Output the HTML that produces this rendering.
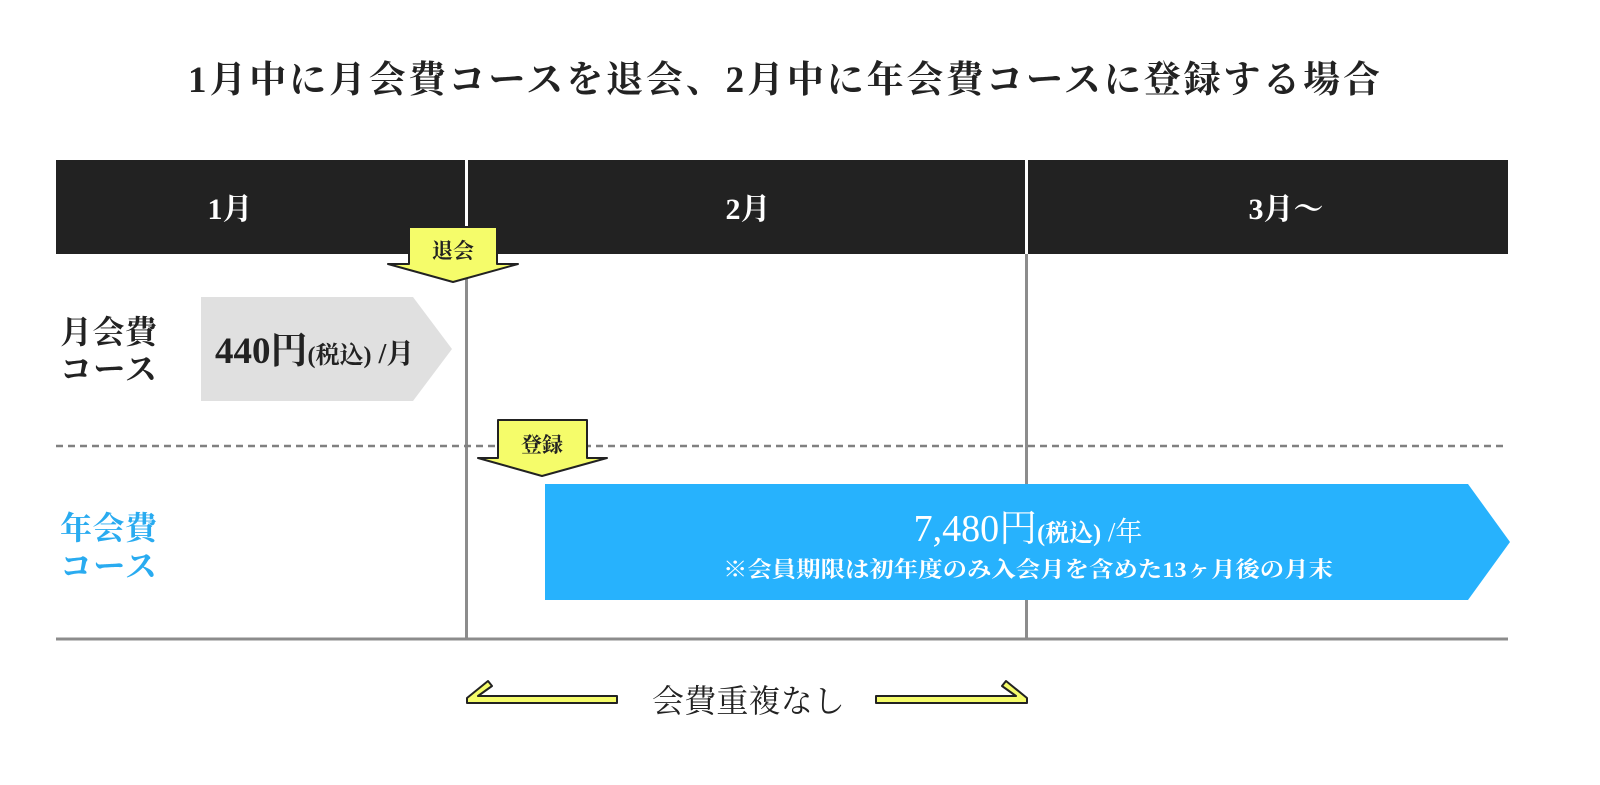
<!DOCTYPE html>
<html><head><meta charset="utf-8">
<style>
html,body{margin:0;padding:0;background:#fff;}
svg{display:block;}
text{font-family:"Liberation Serif","Noto Serif CJK SC","Noto Serif CJK JP",serif;font-weight:bold;}
</style></head>
<body>
<svg width="1600" height="785" viewBox="0 0 1600 785" xmlns="http://www.w3.org/2000/svg">
<rect width="1600" height="785" fill="#fff"/>
<text x="188" y="92" font-size="37" fill="#222" textLength="1192" lengthAdjust="spacing">1月中に月会費コースを退会、2月中に年会費コースに登録する場合</text>

<rect x="56" y="160" width="1452" height="94" fill="#222"/>
<rect x="465" y="160" width="3" height="94" fill="#fff"/>
<rect x="1025" y="160" width="3" height="94" fill="#fff"/>
<text x="230" y="219" font-size="30" fill="#fff" text-anchor="middle">1月</text>
<text x="748" y="219" font-size="30" fill="#fff" text-anchor="middle">2月</text>
<text x="1286" y="219" font-size="30" fill="#fff" text-anchor="middle">3月〜</text>

<line x1="466.5" y1="254" x2="466.5" y2="638" stroke="#8c8c8c" stroke-width="3"/>
<line x1="1026.5" y1="254" x2="1026.5" y2="638" stroke="#8c8c8c" stroke-width="3"/>
<line x1="56" y1="639" x2="1508" y2="639" stroke="#8c8c8c" stroke-width="3"/>
<line x1="56" y1="446" x2="1508" y2="446" stroke="#808080" stroke-width="2.5" stroke-dasharray="7,5"/>

<text x="60" y="343" font-size="32" fill="#222" textLength="97" lengthAdjust="spacing">月会費</text>
<text x="60" y="380" font-size="32" fill="#222" textLength="97" lengthAdjust="spacing">コース</text>
<text x="60" y="539" font-size="32" fill="#29abf0" textLength="97" lengthAdjust="spacing">年会費</text>
<text x="60" y="577" font-size="32" fill="#29abf0" textLength="97" lengthAdjust="spacing">コース</text>

<polygon points="201,297 413,297 452,349 413,401 201,401" fill="#e0e0e0"/>
<text x="215" y="363" font-size="37" fill="#222">440円<tspan font-size="24">(税込)</tspan><tspan font-size="28"> /月</tspan></text>

<polygon points="545,484 1468,484 1510,542 1468,600 545,600" fill="#27b2fd"/>
<text x="1028" y="541" font-size="38" fill="#fff" text-anchor="middle" style="font-weight:normal">7,480円<tspan font-size="24" style="font-weight:bold">(税込)</tspan><tspan font-size="27"> /年</tspan></text>
<text x="1028" y="577" font-size="22" fill="#fff" text-anchor="middle" textLength="610" lengthAdjust="spacingAndGlyphs">※会員期限は初年度のみ入会月を含めた13ヶ月後の月末</text>

<polygon points="409,227 497,227 497,264 518,264 453,282 388,264 409,264" fill="#f5fc6a" stroke="#222" stroke-width="2" stroke-linejoin="round"/>
<text x="453" y="258" font-size="21" fill="#222" text-anchor="middle">退会</text>
<polygon points="498,420 587,420 587,458 607,458 542,476 478,458 498,458" fill="#f5fc6a" stroke="#222" stroke-width="2" stroke-linejoin="round"/>
<text x="542" y="452" font-size="21" fill="#222" text-anchor="middle">登録</text>

<polygon points="488,681 492,686 478,696 617,696 617,703 467,703 467,698" fill="#f5fc6a" stroke="#222" stroke-width="2" stroke-linejoin="round"/>
<polygon points="1006,681 1002,686 1016,696 876,696 876,703 1027,703 1027,698" fill="#f5fc6a" stroke="#222" stroke-width="2" stroke-linejoin="round"/>
<text x="652" y="712" font-size="32" fill="#222" style="font-weight:normal" textLength="193" lengthAdjust="spacing">会費重複なし</text>
</svg>
</body></html>
